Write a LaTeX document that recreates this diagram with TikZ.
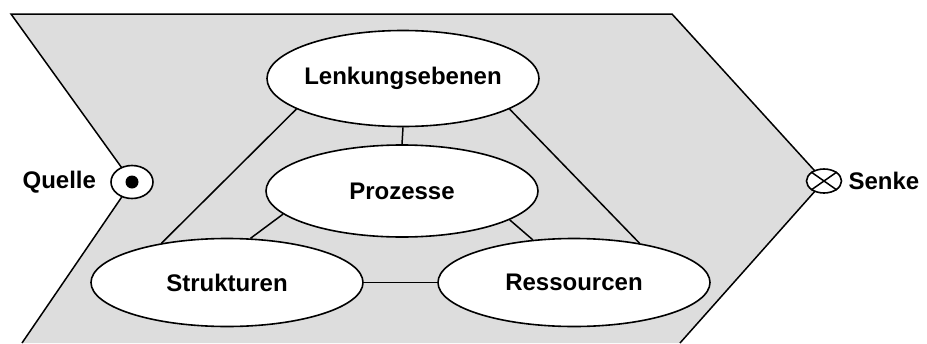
\documentclass[tikz,border=0pt]{standalone}
\usepackage{fontspec}
\setmainfont{Liberation Sans}
\usetikzlibrary{shapes.geometric, positioning}
\definecolor{feldgrau}{RGB}{221,221,221}

\begin{document}
\begin{tikzpicture}[x=1pt, y=-1pt,
    ebene/.style={ellipse, draw, fill=white, line width=1.6pt, minimum width=272pt,
        inner xsep=-10pt, inner ysep=0pt, font=\bfseries\fontsize{24}{28}\selectfont},
    marke/.style={ellipse, draw, fill=white, line width=1.6pt, inner sep=0pt},
    beschr/.style={font=\bfseries\fontsize{24}{28}\selectfont, inner sep=0pt},
    kante/.style={line width=1.5pt}]
    \useasboundingbox (0,0) rectangle (927,343);

    % Feld zwischen Quelle und Senke
    \fill[feldgrau] (22,343) -- (132,182) -- (11,14) -- (672,14) -- (824,181) -- (680,343) -- cycle;
    \draw[kante, line join=miter] (22,343) -- (132,182) -- (11,14) -- (672,14) -- (824,181) -- (680,343);

    \node[ebene, minimum height=96pt] (lenk) at (403,78.5) {Lenkungsebenen};
    \node[ebene, minimum height=92pt] (proz) at (402,191) {Prozesse};
    \node[ebene, minimum height=88pt] (strukt) at (227,282.5) {Strukturen};
    \node[ebene, minimum height=88pt] (ress) at (574,282.5) {Ressourcen};

    \draw[kante] (lenk.south) -- (proz.north);
    \draw[kante] (lenk.196) -- (strukt.149);
    \draw[kante] (lenk.-16) -- (ress.31);
    \draw[kante] (proz.191) -- (strukt.62);
    \draw[kante] (proz.-15) -- (ress.134);
    \draw[kante] (strukt) -- (ress);

    % Quelle und Senke
    \node[marke, minimum width=42pt, minimum height=33pt] (quelle) at (132,182) {};
    \fill (quelle.center) circle (6.5pt);
    \node[beschr, left=14pt of quelle] (quelletxt) {Quelle};

    \node[marke, minimum width=35pt, minimum height=24pt] (senke) at (824,181) {};
    \draw[kante] (senke.north west) -- (senke.south east)
        (senke.north east) -- (senke.south west);
    \node[beschr, right=6pt of senke] (senketxt) {Senke};
\end{tikzpicture}
\end{document}
